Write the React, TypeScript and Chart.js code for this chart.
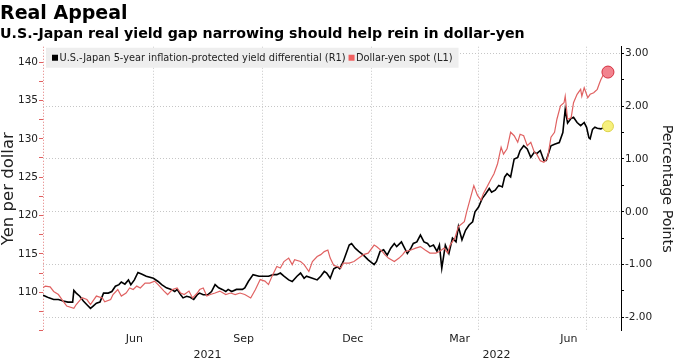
import React, { useEffect, useRef } from "react";
import { Chart, registerables } from "chart.js";

Chart.register(...registerables);

// ---------- data ----------
const usdJpyDates = [
  "2021-03-30","2021-04-01","2021-04-05","2021-04-08","2021-04-12","2021-04-15","2021-04-19","2021-04-25","2021-04-27",
  "2021-05-02","2021-05-06","2021-05-09","2021-05-11","2021-05-14","2021-05-19","2021-05-21","2021-05-26","2021-05-28",
  "2021-06-01","2021-06-04","2021-06-08","2021-06-11","2021-06-14","2021-06-17","2021-06-20","2021-06-24","2021-06-28",
  "2021-07-02","2021-07-05","2021-07-10","2021-07-13","2021-07-17","2021-07-21","2021-07-24","2021-07-27","2021-07-31",
  "2021-08-03","2021-08-07","2021-08-09","2021-08-12","2021-08-15","2021-08-18","2021-08-22","2021-08-26","2021-08-31",
  "2021-09-04","2021-09-08","2021-09-12","2021-09-16","2021-09-21","2021-09-25","2021-09-29",
  "2021-10-03","2021-10-06","2021-10-09","2021-10-13","2021-10-16","2021-10-19","2021-10-23","2021-10-26","2021-10-28",
  "2021-11-02","2021-11-05","2021-11-09","2021-11-12","2021-11-16","2021-11-19","2021-11-22","2021-11-25","2021-11-27","2021-11-30",
  "2021-12-03","2021-12-06","2021-12-08","2021-12-13","2021-12-17","2021-12-21","2021-12-25","2021-12-29",
  "2022-01-03","2022-01-05","2022-01-10","2022-01-12","2022-01-15","2022-01-20","2022-01-24","2022-01-27","2022-01-29",
  "2022-02-03","2022-02-07","2022-02-11","2022-02-15","2022-02-19","2022-02-24","2022-02-27",
  "2022-03-03","2022-03-06","2022-03-08","2022-03-12","2022-03-15","2022-03-20","2022-03-22","2022-03-25","2022-03-28","2022-03-31",
  "2022-04-03","2022-04-05","2022-04-08","2022-04-11","2022-04-14","2022-04-17","2022-04-20","2022-04-22","2022-04-25","2022-04-28",
  "2022-05-01","2022-05-04","2022-05-06","2022-05-09","2022-05-12","2022-05-15","2022-05-18","2022-05-20","2022-05-23","2022-05-26","2022-05-29",
  "2022-06-01","2022-06-04","2022-06-06","2022-06-09","2022-06-12","2022-06-13","2022-06-15","2022-06-18","2022-06-20","2022-06-23","2022-06-26","2022-06-27","2022-06-29",
  "2022-07-02","2022-07-04","2022-07-07","2022-07-10","2022-07-12","2022-07-13","2022-07-16","2022-07-19"
];
const usdJpyValues = [
  110.6,110.8,110.7,110.1,109.7,109.05,108.2,107.9,108.4,
  109.3,109.05,108.4,108.85,109.5,109.25,108.75,109.05,109.7,
  110.35,109.5,109.9,110.55,110.35,110.8,110.55,111.2,111.2,
  111.45,111.0,110.15,109.7,110.35,110.55,109.9,109.7,110.15,
  109.25,109.9,110.35,110.55,109.5,109.7,109.9,110.15,109.7,
  109.9,109.7,109.9,109.7,109.25,110.35,111.65,
  111.45,111.0,112.1,113.35,113.15,114.0,114.45,113.6,114.25,
  114.0,113.6,112.7,114.0,114.65,114.9,115.3,115.5,114.45,113.5,
  113.35,113.15,113.8,113.8,114.0,114.45,114.9,115.1,
  116.15,115.95,115.3,114.9,114.45,114.0,114.45,114.9,115.3,
  115.5,115.75,115.95,115.5,115.1,115.1,115.3,
  115.75,115.1,116.15,117.05,118.55,119.2,120.5,122.2,123.9,122.65,
  122.0,122.85,123.7,124.6,125.45,126.75,128.9,128.0,128.7,130.85,
  130.4,129.55,130.6,130.4,129.1,129.55,128.25,128.0,127.15,126.95,127.4,
  130.2,130.85,132.55,134.3,134.7,135.55,132.55,132.75,134.7,135.8,136.45,135.55,136.65,
  135.35,135.8,136.0,136.45,137.3,137.7,138.6,138.7
];

const spreadDates = [
  "2021-03-30","2021-04-01","2021-04-04","2021-04-08","2021-04-12","2021-04-16","2021-04-20","2021-04-24","2021-04-25","2021-04-27","2021-04-30",
  "2021-05-03","2021-05-06","2021-05-09","2021-05-11","2021-05-14","2021-05-17","2021-05-20","2021-05-24","2021-05-27","2021-05-30",
  "2021-06-02","2021-06-04","2021-06-07","2021-06-10","2021-06-12","2021-06-15","2021-06-18","2021-06-21","2021-06-25",
  "2021-07-01","2021-07-05","2021-07-08","2021-07-12","2021-07-16","2021-07-19","2021-07-21","2021-07-24","2021-07-26","2021-07-29",
  "2021-08-01","2021-08-04","2021-08-07","2021-08-09","2021-08-12","2021-08-16","2021-08-19","2021-08-22","2021-08-25","2021-08-28","2021-08-31",
  "2021-09-02","2021-09-05","2021-09-09","2021-09-14","2021-09-16","2021-09-19","2021-09-23","2021-09-28",
  "2021-10-02","2021-10-06","2021-10-10","2021-10-13","2021-10-16","2021-10-19","2021-10-23","2021-10-26","2021-10-30",
  "2021-11-02","2021-11-05","2021-11-07","2021-11-12","2021-11-16","2021-11-19","2021-11-22","2021-11-24","2021-11-27","2021-11-30",
  "2021-12-03","2021-12-05","2021-12-08","2021-12-13","2021-12-15","2021-12-18","2021-12-21","2021-12-25","2021-12-29",
  "2022-01-03","2022-01-05","2022-01-08","2022-01-11","2022-01-14","2022-01-17","2022-01-20","2022-01-22","2022-01-26","2022-01-28","2022-01-31",
  "2022-02-03","2022-02-05","2022-02-08","2022-02-11","2022-02-14","2022-02-17","2022-02-19","2022-02-22","2022-02-25","2022-02-27",
  "2022-03-01","2022-03-04","2022-03-07","2022-03-10","2022-03-13","2022-03-15","2022-03-18","2022-03-21","2022-03-24","2022-03-27","2022-03-29",
  "2022-04-01","2022-04-04","2022-04-07","2022-04-10","2022-04-12","2022-04-15","2022-04-18","2022-04-21","2022-04-23","2022-04-25","2022-04-28",
  "2022-05-01","2022-05-04","2022-05-06","2022-05-09","2022-05-12","2022-05-15","2022-05-18","2022-05-20","2022-05-23","2022-05-26","2022-05-28",
  "2022-06-01","2022-06-04","2022-06-08","2022-06-11","2022-06-13","2022-06-15","2022-06-18","2022-06-20","2022-06-23","2022-06-26","2022-06-29",
  "2022-07-01","2022-07-03","2022-07-04","2022-07-06","2022-07-08","2022-07-10","2022-07-13","2022-07-16","2022-07-19"
];
const spreadValues = [
  -1.58,-1.60,-1.63,-1.66,-1.66,-1.69,-1.71,-1.71,-1.49,-1.54,-1.60,
  -1.69,-1.76,-1.83,-1.79,-1.73,-1.71,-1.54,-1.54,-1.51,-1.41,
  -1.38,-1.33,-1.37,-1.29,-1.38,-1.29,-1.15,-1.18,-1.22,
  -1.26,-1.32,-1.38,-1.44,-1.47,-1.51,-1.47,-1.57,-1.63,-1.60,
  -1.62,-1.66,-1.57,-1.54,-1.57,-1.57,-1.51,-1.38,-1.44,-1.47,-1.51,
  -1.47,-1.51,-1.47,-1.47,-1.44,-1.32,-1.19,-1.22,
  -1.22,-1.22,-1.19,-1.19,-1.16,-1.22,-1.29,-1.32,-1.22,
  -1.16,-1.26,-1.22,-1.26,-1.29,-1.22,-1.13,-1.16,-1.26,-1.08,
  -1.04,-1.08,-0.94,-0.63,-0.60,-0.69,-0.75,-0.82,-0.91,
  -1.00,-0.94,-0.75,-0.72,-0.82,-0.69,-0.60,-0.66,-0.57,-0.66,-0.79,
  -0.69,-0.60,-0.57,-0.44,-0.57,-0.60,-0.66,-0.63,-0.75,-0.63,
  -1.07,-0.63,-0.79,-0.50,-0.57,-0.28,-0.53,-0.35,-0.25,-0.19,0.00,
  0.09,0.25,0.34,0.44,0.37,0.41,0.50,0.47,0.66,0.72,0.66,
  1.00,1.03,1.16,1.25,1.19,1.03,1.13,1.10,1.16,0.97,0.97,
  1.25,1.28,1.31,1.50,1.94,1.68,1.77,1.79,1.69,1.63,1.69,
  1.60,1.40,1.38,1.56,1.60,1.58,1.57,1.60,1.62
];

const axisStartDate = "2021-03-30";
const axisEndDate = "2022-07-30";
const gridDates = ["2021-07-01", "2021-10-01", "2022-01-01", "2022-04-01", "2022-07-01"];
const monthLabelDates = ["2021-06-15", "2021-09-15", "2021-12-16", "2022-03-16", "2022-06-16"];
const monthLabels = ["Jun", "Sep", "Dec", "Mar", "Jun"];
const yearLabels = ["2021", "2022"];
const yearBoundaryDate = "2022-01-01";
const leftTicks = [105, 107.5, 110, 112.5, 115, 117.5, 120, 122.5, 125, 127.5, 130, 132.5, 135, 137.5, 140];
const rightTicks = [-2, -1.5, -1, -0.5, 0, 0.5, 1, 1.5, 2, 2.5, 3];

const TITLE = "Real Appeal";
const SUBTITLE = "U.S.-Japan real yield gap narrowing should help rein in dollar-yen";
const SPREAD_LABEL = "U.S.-Japan 5-year inflation-protected yield differential (R1)";
const USDJPY_LABEL = "Dollar-yen spot (L1)";

// ---------- helpers ----------
const DAY0 = Date.UTC(2021, 0, 1);
function toDay(s: string): number {
  const [y, m, d] = s.split("-").map(Number);
  return (Date.UTC(y, m - 1, d) - DAY0) / 86400000;
}

const xMin = toDay(axisStartDate);
const xMax = toDay(axisEndDate);
const yb = toDay(yearBoundaryDate);
const yearPositions = [(xMin + yb) / 2, (yb + xMax) / 2];

const FONT = '"DejaVu Sans", sans-serif';
const TEXT = "#222";
const GRID = "#c6c6c6";
const RED = "#e06262";

const legendPlugin = {
  id: "boxLegend",
  afterDatasetsDraw(chart: any) {
    const { ctx, chartArea } = chart;
    const items = [
      { label: SPREAD_LABEL, color: "#000000" },
      { label: USDJPY_LABEL, color: "#f06060" },
    ];
    ctx.save();
    ctx.font = `9.8px ${FONT}`;
    const x0 = chartArea.left + 3;
    const y0 = chartArea.top + 1;
    const h = 20;
    let x = x0 + 6;
    const pos: { sx: number; tx: number }[] = [];
    items.forEach((it) => {
      const w = ctx.measureText(it.label).width;
      pos.push({ sx: x, tx: x + 7.5 });
      x += 7.5 + w + 3;
    });
    const width = x - 3 + 6 - x0;
    ctx.fillStyle = "#eeeeee";
    ctx.fillRect(x0, y0, width, h);
    ctx.textBaseline = "middle";
    ctx.textAlign = "left";
    items.forEach((it, i) => {
      ctx.fillStyle = it.color;
      ctx.fillRect(pos[i].sx, y0 + 7, 6, 6);
      ctx.fillStyle = TEXT;
      ctx.fillText(it.label, pos[i].tx, y0 + 10.5);
    });
    ctx.restore();
  },
};

export default function App() {
  const ref = useRef<HTMLCanvasElement | null>(null);

  useEffect(() => {
    document.body.style.margin = "0";
    const canvas = ref.current;
    if (!canvas) return;
    const lastUsd = usdJpyValues.length - 1;
    const lastSpread = spreadValues.length - 1;

    const chart = new Chart(canvas, {
      type: "line",
      data: {
        datasets: [
          {
            label: SPREAD_LABEL,
            yAxisID: "yR",
            data: spreadDates.map((d, i) => ({ x: toDay(d), y: spreadValues[i] })),
            borderColor: "#000000",
            borderWidth: 1.6,
            tension: 0,
            order: 1,
            pointRadius: (c: any) => (c.dataIndex === lastSpread ? 5.5 : 0),
            pointBackgroundColor: "#f6f07c",
            pointBorderColor: "#ddd24a",
            pointBorderWidth: 1,
            pointHoverRadius: 0,
          },
          {
            label: USDJPY_LABEL,
            yAxisID: "yL",
            data: usdJpyDates.map((d, i) => ({ x: toDay(d), y: usdJpyValues[i] })),
            borderColor: RED,
            borderWidth: 1.2,
            tension: 0,
            order: 0,
            pointRadius: (c: any) => (c.dataIndex === lastUsd ? 6 : 0),
            pointBackgroundColor: "#f2838e",
            pointBorderColor: "#d42f3f",
            pointBorderWidth: 1,
            pointHoverRadius: 0,
          },
        ],
      },
      options: {
        animation: false,
        responsive: false,
        maintainAspectRatio: false,
        events: [],
        layout: { padding: { left: 0, right: 0, top: 0, bottom: 1 } },
        plugins: {
          legend: { display: false },
          tooltip: { enabled: false },
          title: {
            display: true,
            text: TITLE,
            align: "start",
            color: "#000",
            font: { family: FONT, size: 19, weight: "bold" },
            padding: { top: 2.7, bottom: 0 },
          },
          subtitle: {
            display: true,
            text: SUBTITLE,
            align: "start",
            color: "#000",
            font: { family: FONT, size: 14.2, weight: "bold" },
            padding: { top: 0, bottom: 4.2 },
          },
        },
        scales: {
          x: {
            type: "linear",
            position: "bottom",
            weight: 0,
            min: xMin,
            max: xMax,
            afterBuildTicks: (s: any) => {
              s.ticks = [xMin, ...gridDates.map(toDay)].map((v) => ({ value: v }));
            },
            ticks: { display: false },
            grid: {
              display: true,
              drawTicks: false,
              color: (c: any) => (c.tick && c.tick.value === xMin ? "#e27878" : GRID),
            },
            border: { display: false, dash: [1, 2] },
          },
          xm: {
            type: "linear",
            position: "bottom",
            weight: 1,
            min: xMin,
            max: xMax,
            afterBuildTicks: (s: any) => {
              s.ticks = monthLabelDates.map((d) => ({ value: toDay(d) }));
            },
            ticks: {
              padding: 2,
              color: TEXT,
              maxRotation: 0,
              autoSkip: false,
              font: { family: FONT, size: 11 },
              callback: (_v: any, i: number) => monthLabels[i],
            },
            grid: { display: false, drawTicks: false },
            border: { display: false },
          },
          xy: {
            type: "linear",
            position: "bottom",
            weight: 2,
            min: xMin,
            max: xMax,
            afterBuildTicks: (s: any) => {
              s.ticks = yearPositions.map((v) => ({ value: v }));
            },
            ticks: {
              padding: 1,
              color: TEXT,
              maxRotation: 0,
              autoSkip: false,
              font: { family: FONT, size: 11 },
              callback: (_v: any, i: number) => yearLabels[i],
            },
            grid: { display: false, drawTicks: false },
            border: { display: false },
          },
          yL: {
            type: "linear",
            position: "left",
            min: 105,
            max: 142,
            afterBuildTicks: (s: any) => {
              s.ticks = leftTicks.map((v) => ({ value: v }));
            },
            afterFit: (s: any) => {
              s.width = 43;
            },
            ticks: {
              padding: 1,
              color: TEXT,
              autoSkip: false,
              font: { family: FONT, size: 10.5 },
              callback: (v: any) => (v >= 110 && v % 5 === 0 ? String(v) : ""),
            },
            grid: { drawOnChartArea: false, drawTicks: true, tickLength: 4, tickColor: "#e06060" },
            border: { display: false },
            title: {
              display: true,
              text: "Yen per dollar",
              color: TEXT,
              font: { family: FONT, size: 16.5, lineHeight: 1 },
              padding: { top: 0, bottom: 0 },
            },
          },
          yR: {
            type: "linear",
            position: "right",
            min: -2.25,
            max: 3.125,
            afterBuildTicks: (s: any) => {
              s.ticks = rightTicks.map((v) => ({ value: v }));
            },
            afterFit: (s: any) => {
              s.width = 54;
            },
            ticks: {
              padding: 1,
              color: TEXT,
              autoSkip: false,
              font: { family: FONT, size: 10.5 },
              callback: (v: any) => (Number.isInteger(v) ? Number(v).toFixed(2) : ""),
            },
            grid: {
              drawOnChartArea: true,
              drawTicks: true,
              tickLength: 3,
              tickColor: "#000",
              color: (c: any) => (c.tick && Number.isInteger(c.tick.value) ? GRID : "rgba(0,0,0,0)"),
            },
            border: { display: true, color: "#000", width: 1, dash: [1, 2] },
            title: {
              display: true,
              text: "Percentage Points",
              color: TEXT,
              font: { family: FONT, size: 14.3, lineHeight: 1 },
              padding: { top: 1, bottom: 0 },
            },
          },
        },
      } as any,
      plugins: [legendPlugin],
    });
    return () => chart.destroy();
  }, []);

  return (
    <div style={{ width: 675, height: 364 }}>
      <canvas ref={ref} width={675} height={364} style={{ display: "block" }} />
    </div>
  );
}
